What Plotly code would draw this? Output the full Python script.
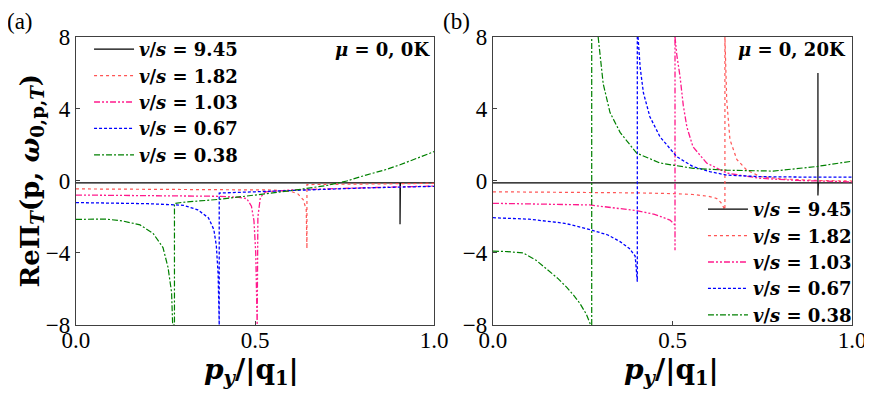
import plotly.graph_objects as go

# ---- panel (a): mu = 0, 0K ----
a_black_x = [0.0, 0.905, 0.905, 0.906, 1.0]
a_black_y = [-0.1, -0.1, -2.4, -0.1, -0.1]

a_red_x = [0.0, 0.2, 0.4, 0.55, 0.6, 0.62, 0.635, 0.643, 0.645, 0.645, 0.7, 0.8, 0.9, 1.0]
a_red_y = [-0.44, -0.45, -0.47, -0.5, -0.58, -0.72, -1.05, -1.6, -3.75, -0.2, -0.19, -0.17, -0.15, -0.13]

a_pink_x = [0.0, 0.2, 0.4, 0.45, 0.477, 0.49, 0.497, 0.502, 0.505, 0.506, 0.508, 0.515, 0.53, 0.6, 0.8, 1.0]
a_pink_y = [-0.78, -0.8, -0.85, -0.9, -0.98, -1.4, -2.2, -4.0, -8.0, -8.0, -2.0, -0.9, -0.6, -0.5, -0.38, -0.28]

a_blue_x = [0.0, 0.1, 0.2, 0.3, 0.34, 0.37, 0.385, 0.392, 0.397, 0.4, 0.4, 0.5, 0.6, 0.7, 0.8, 0.9, 1.0]
a_blue_y = [-1.2, -1.22, -1.26, -1.35, -1.6, -2.05, -2.7, -3.6, -5.2, -8.0, -0.67, -0.6, -0.52, -0.45, -0.39, -0.34, -0.3]

a_green_x = [0.0, 0.05, 0.086, 0.13, 0.179, 0.215, 0.243, 0.257, 0.267, 0.27, 0.275, 0.275, 0.3,
             0.4, 0.5, 0.6, 0.7, 0.756, 0.81, 0.86, 0.905, 0.95, 1.0]
a_green_y = [-2.13, -2.1, -2.12, -2.22, -2.44, -2.9, -3.7, -4.8, -6.2, -8.0, -8.0, -1.25, -1.18,
             -1.02, -0.8, -0.54, -0.25, 0.0, 0.33, 0.6, 0.9, 1.25, 1.63]

# ---- panel (b): mu = 0, 20K ----
b_black_x = [0.0, 0.905, 0.905, 0.905, 0.906, 1.0]
b_black_y = [-0.1, -0.1, 6.0, -0.8, -0.1, -0.1]

b_red_x = [0.0, 0.2, 0.4, 0.5, 0.557, 0.6, 0.623, 0.635, 0.646, 0.646, 0.651, 0.66, 0.679, 0.707,
           0.744, 0.8, 0.9, 1.0]
b_red_y = [-0.6, -0.62, -0.66, -0.7, -0.75, -0.85, -0.97, -1.2, -1.6, 8.0, 4.5, 2.3, 1.2, 0.6,
           0.25, 0.12, 0.03, 0.0]

b_pink_x = [0.0, 0.1, 0.2, 0.27, 0.4, 0.45, 0.493, 0.507, 0.507, 0.507, None, 0.507, 0.512, 0.521,
            0.53, 0.54, 0.557, 0.595, 0.651, 0.744, 0.85, 1.0]
b_pink_y = [-1.24, -1.26, -1.3, -1.33, -1.65, -1.85, -2.17, -2.44, -3.85, 8.0, None, 8.0, 7.0, 5.8,
            4.2, 3.0, 1.9, 1.0, 0.44, 0.15, 0.03, -0.05]

b_blue_x = [0.0, 0.1, 0.2, 0.27, 0.32, 0.354, 0.38, 0.396, 0.402, 0.402, None, 0.404, 0.41, 0.419,
            0.437, 0.465, 0.512, 0.557, 0.604, 0.651, 0.744, 0.85, 1.0]
b_blue_y = [-2.04, -2.12, -2.35, -2.7, -3.0, -3.37, -3.75, -4.17, -5.6, 8.0, None, 8.0, 6.3, 4.9,
            3.57, 2.46, 1.35, 0.8, 0.52, 0.33, 0.24, 0.22, 0.22]

b_green_x = [0.0, 0.04, 0.084, 0.12, 0.15, 0.18, 0.205, 0.225, 0.242, 0.26, 0.272, 0.275, 0.275, None,
             0.293, 0.3, 0.307, 0.326, 0.354, 0.4, 0.465, 0.558, 0.651, 0.78, 0.9, 1.0]
b_green_y = [-3.9, -3.92, -4.0, -4.4, -4.9, -5.4, -5.9, -6.35, -6.8, -7.4, -8.0, -8.0, 8.0, None,
             8.0, 6.5, 5.4, 3.8, 2.7, 1.55, 1.0, 0.7, 0.6, 0.55, 0.8, 1.1]

labels = ["9.45", "1.82", "1.03", "0.67", "0.38"]
colors = ["#000000", "#ff5555", "#ff1a8c", "#0000ff", "#008000"]
dashes = ["solid", "dot", "6px,2px,2px,2px,2px,2px", "3px,2px", "6px,2px,2px,2px"]
widths = [1.2, 1.2, 1.3, 1.3, 1.2]

series_a = [(a_black_x, a_black_y), (a_red_x, a_red_y), (a_pink_x, a_pink_y),
            (a_blue_x, a_blue_y), (a_green_x, a_green_y)]
series_b = [(b_black_x, b_black_y), (b_red_x, b_red_y), (b_pink_x, b_pink_y),
            (b_blue_x, b_blue_y), (b_green_x, b_green_y)]

SERIF = "Liberation Serif"
MATH = "DejaVu Serif"

fig = go.Figure()

for i, (xs, ys) in enumerate(series_a):
    fig.add_trace(go.Scatter(
        x=xs, y=ys, mode="lines", xaxis="x", yaxis="y", legend="legend",
        name="<b><i>v</i>/<i>s</i> = " + labels[i] + "</b>",
        line=dict(color=colors[i], dash=dashes[i], width=widths[i])
    ))

for i, (xs, ys) in enumerate(series_b):
    fig.add_trace(go.Scatter(
        x=xs, y=ys, mode="lines", xaxis="x2", yaxis="y2", legend="legend2",
        name="<b><i>v</i>/<i>s</i> = " + labels[i] + "</b>",
        line=dict(color=colors[i], dash=dashes[i], width=widths[i])
    ))

axis_style = dict(
    showline=True, linecolor="#404040", linewidth=1.3, mirror=True, automargin=False,
    showgrid=False, zeroline=False, ticks="inside", ticklen=4, tickcolor="#404040",
    tickfont=dict(family=SERIF, size=23, color="black"),
)

legend_style = dict(
    font=dict(family=MATH, size=18, color="black"),
    bgcolor="rgba(0,0,0,0)", borderwidth=0, itemwidth=40,
    tracegroupgap=0,
)

# the page body adds an 8px offset, so the figure is 864x386
fig.update_layout(
    template="none",
    width=864, height=386,
    margin=dict(l=0, r=0, t=0, b=0, autoexpand=False),
    plot_bgcolor="white", paper_bgcolor="white",
    font=dict(family=SERIF, color="black"),
    xaxis=dict(domain=[0.0787, 0.4931], range=[0, 1], tickvals=[0, 0.5, 1.0],
               ticktext=["0.0", "0.5", "1.0"], anchor="y", ticklabelstandoff=-6, **axis_style),
    yaxis=dict(domain=[0.1788, 0.9249], range=[-8, 8], tickvals=[-8, -4, 0, 4, 8],
               anchor="x", **axis_style),
    xaxis2=dict(domain=[0.5613, 0.9769], range=[0, 1], tickvals=[0, 0.5, 1.0],
                ticktext=["0.0", "0.5", "1.0"], anchor="y2", ticklabelstandoff=-6, **axis_style),
    yaxis2=dict(domain=[0.1788, 0.9249], range=[-8, 8], tickvals=[-8, -4, 0, 4, 8],
                anchor="x2", **axis_style),
    legend=dict(x=0.0938, y=0.9404, xanchor="left", yanchor="top", **legend_style),
    legend2=dict(x=0.9826, y=0.158, xanchor="right", yanchor="bottom", **legend_style),
    showlegend=True,
)

annotations = [
    dict(text="(a)", x=-0.003, y=0.966, xanchor="left", yanchor="middle",
         font=dict(family=SERIF, size=23)),
    dict(text="(b)", x=0.501, y=0.966, xanchor="left", yanchor="middle",
         font=dict(family=SERIF, size=23)),
    dict(text="<b><i>μ</i> = 0, 0K</b>", x=0.4907, y=0.8912, xanchor="right", yanchor="middle",
         font=dict(family=MATH, size=18)),
    dict(text="<b><i>μ</i> = 0, 20K</b>", x=0.9722, y=0.8912, xanchor="right", yanchor="middle",
         font=dict(family=MATH, size=18)),
    dict(text="<b><i>p</i><sub><i>y</i></sub>/|q<sub>1</sub>|</b>", x=0.2824, y=0.057,
         xanchor="center", yanchor="middle", font=dict(family=MATH, size=28)),
    dict(text="<b><i>p</i><sub><i>y</i></sub>/|q<sub>1</sub>|</b>", x=0.7674, y=0.057,
         xanchor="center", yanchor="middle", font=dict(family=MATH, size=28)),
    dict(text="<b>ReΠ<sub><i>T</i></sub>(p, <i>ω</i><sub>0,p,<i>T</i></sub>)</b>",
         x=0.0272, y=0.552, xanchor="center", yanchor="middle", textangle=-90,
         font=dict(family=MATH, size=26)),
]
for ann in annotations:
    fig.add_annotation(xref="paper", yref="paper", showarrow=False, **ann)

fig.write_html("out.html")
